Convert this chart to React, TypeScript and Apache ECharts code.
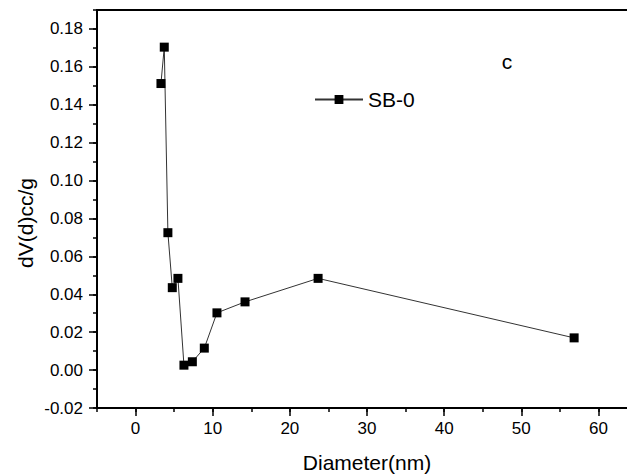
import React, { useEffect, useRef } from "react";
import * as echarts from "echarts";

const diameters = [3.29, 3.72, 4.19, 4.76, 5.49, 6.27, 7.36, 8.91, 10.55, 14.19, 23.66, 56.85];
const dvValues = [0.1512, 0.1704, 0.0725, 0.0435, 0.0484, 0.0026, 0.0044, 0.0116, 0.0302, 0.036, 0.0484, 0.017];
const xTickValues = [0, 10, 20, 30, 40, 50, 60];
const yTickValues = [-0.02, 0, 0.02, 0.04, 0.06, 0.08, 0.1, 0.12, 0.14, 0.16, 0.18];
const seriesName = "SB-0";
const panelLabel = "c";
const xTitle = "Diameter(nm)";
const yTitle = "dV(d)cc/g";

const FONT = "'Liberation Sans', Arial, sans-serif";

const GRID_LEFT = 97;
const GRID_TOP = 10;
const GRID_W = 540;
const GRID_H = 398;

export default function App() {
  const ref = useRef<HTMLDivElement>(null);
  useEffect(() => {
    if (!ref.current) return;
    const chart = echarts.init(ref.current, null, { renderer: "svg" });
    const data = diameters.map((d, i) => [d, dvValues[i]]);
    const axisLine = { show: true, onZero: false, lineStyle: { color: "#000", width: 2 } };
    const hiddenLine = { show: false, onZero: false };
    chart.setOption({
      animation: false,
      backgroundColor: "#fff",
      grid: {
        left: GRID_LEFT,
        top: GRID_TOP,
        width: GRID_W,
        height: GRID_H,
        containLabel: false,
        outerBoundsMode: "none",
        show: true,
        borderColor: "#000",
        borderWidth: 2,
        backgroundColor: "transparent",
      },
      legend: {
        data: [seriesName],
        left: 309,
        top: 84,
        itemWidth: 48,
        itemHeight: 11,
        itemGap: 5,
        textStyle: { fontSize: 21, fontFamily: FONT, color: "#000" },
      },
      xAxis: [
        {
          type: "value",
          position: "bottom",
          min: -5,
          max: 65,
          axisLine,
          axisTick: { show: true, length: 8, inside: false, lineStyle: { color: "#000", width: 1.5 }, customValues: xTickValues },
          axisLabel: { show: true, customValues: xTickValues, fontSize: 17, fontFamily: FONT, color: "#000", margin: 12 },
          splitLine: { show: false },
          name: xTitle,
          nameLocation: "middle",
          nameGap: 44,
          nameTextStyle: { fontSize: 21, fontFamily: FONT, color: "#000" },
        },
        {
          type: "value",
          position: "top",
          offset: -GRID_H,
          min: -5,
          max: 65,
          interval: 5,
          axisLine: hiddenLine,
          axisTick: { show: true, inside: true, length: 4, lineStyle: { color: "#000", width: 1.5 } },
          axisLabel: { show: false },
          splitLine: { show: false },
        },
      ],
      yAxis: [
        {
          type: "value",
          position: "left",
          min: -0.02,
          max: 0.19,
          axisLine,
          axisTick: { show: true, length: 8, lineStyle: { color: "#000", width: 1.5 }, customValues: yTickValues },
          axisLabel: {
            show: true,
            customValues: yTickValues,
            fontSize: 17,
            fontFamily: FONT,
            color: "#000",
            margin: 14,
            formatter: (v: number) => v.toFixed(2),
          },
          splitLine: { show: false },
        },
        {
          type: "value",
          position: "right",
          offset: -GRID_W,
          min: -0.02,
          max: 0.19,
          interval: 0.01,
          axisLine: hiddenLine,
          axisTick: { show: true, inside: true, length: 4, lineStyle: { color: "#000", width: 1.5 } },
          axisLabel: { show: false },
          splitLine: { show: false },
        },
      ],
      series: [
        {
          name: seriesName,
          type: "line",
          xAxisIndex: 0,
          yAxisIndex: 0,
          data,
          symbol: "rect",
          symbolSize: 9,
          lineStyle: { color: "#333", width: 1 },
          itemStyle: { color: "#000" },
        },
      ],
      graphic: [
        {
          type: "text",
          x: 25,
          y: 223,
          rotation: Math.PI / 2,
          style: { text: yTitle, fontSize: 21, fontFamily: FONT, fill: "#000", align: "center", verticalAlign: "middle" },
        },
        {
          type: "text",
          x: 507,
          y: 61,
          style: { text: panelLabel, fontSize: 21, fontFamily: FONT, fill: "#000", align: "center", verticalAlign: "middle" },
        },
      ],
    });
    return () => chart.dispose();
  }, []);
  return <div ref={ref} style={{ width: 627, height: 475, position: "absolute", left: 0, top: 0 }} />;
}
